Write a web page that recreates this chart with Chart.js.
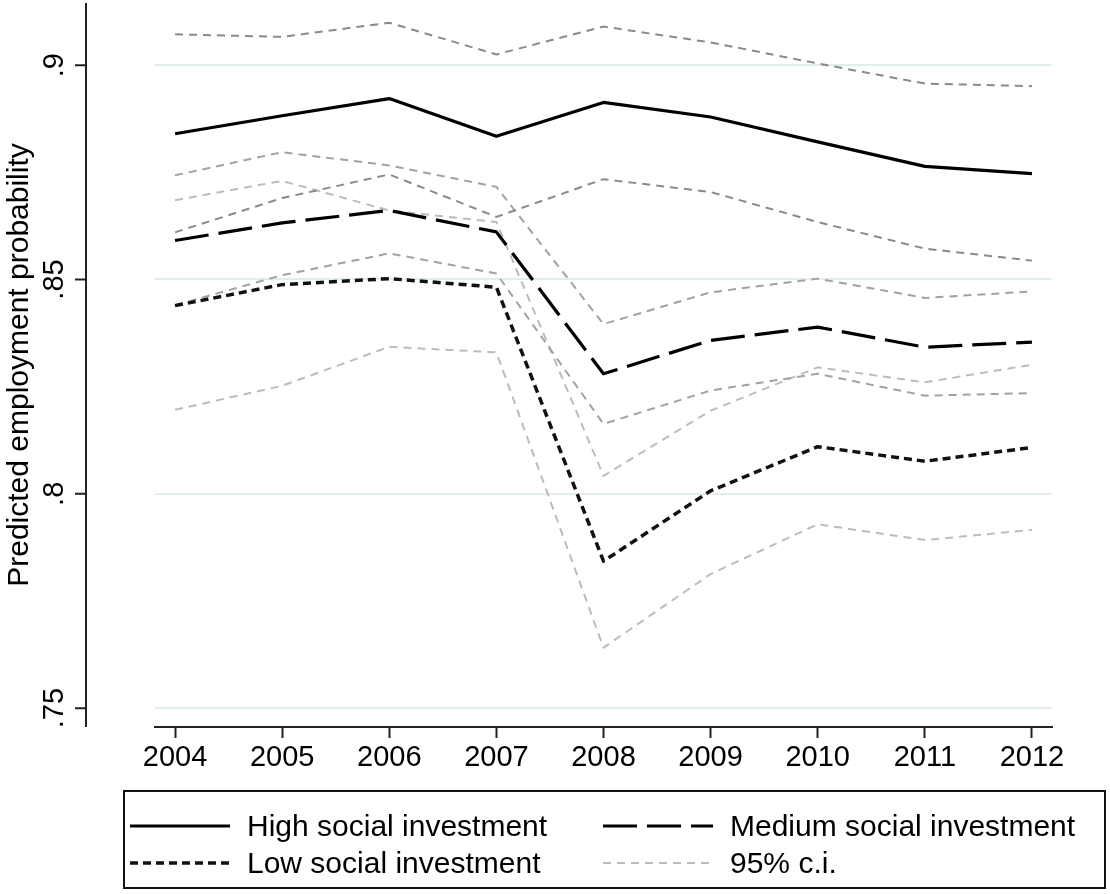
<!DOCTYPE html>
<html>
<head>
<meta charset="utf-8">
<title>Predicted employment probability</title>
<script src="https://cdn.jsdelivr.net/npm/chart.js@4.4.1/dist/chart.umd.min.js"></script>
<style>
  body { margin: 0; background: #fff; }
  #wrap { position: relative; width: 1110px; height: 894px; }
  #legend {
    position: absolute; left: 123px; top: 790px; width: 983px; height: 99px;
    box-sizing: border-box; border: 2px solid #111;
    padding: 15px 0 0 5px;
    display: grid; grid-template-columns: 473px auto; grid-auto-rows: 37px;
    font-family: "Liberation Sans", Arial, sans-serif; font-size: 30px; color: #000;
  }
  .item { display: flex; align-items: center; white-space: nowrap; }
  .item svg { margin-right: 17px; flex: none; }
</style>
</head>
<body>
<div id="wrap">
  <canvas id="chart" width="1110" height="894"></canvas>
  <div id="legend"></div>
</div>
<script>
// Values
const years = [2004, 2005, 2006, 2007, 2008, 2009, 2010, 2011, 2012];

const highSI = [0.8840, 0.8882, 0.8922, 0.8834, 0.8913, 0.8879, 0.8821, 0.8764, 0.8747];
const highUpper = [0.9072, 0.9066, 0.9099, 0.9025, 0.9090, 0.9053, 0.9004, 0.8957, 0.8951];
const highLower = [0.8610, 0.8690, 0.8745, 0.8646, 0.8734, 0.8704, 0.8634, 0.8572, 0.8544];

const mediumSI = [0.8591, 0.8632, 0.8661, 0.8611, 0.8280, 0.8358, 0.8389, 0.8342, 0.8354];
const mediumUpper = [0.8743, 0.8797, 0.8766, 0.8716, 0.8396, 0.8470, 0.8502, 0.8457, 0.8472];
const mediumLower = [0.8440, 0.8510, 0.8561, 0.8514, 0.8163, 0.8241, 0.8280, 0.8229, 0.8235];

const lowSI = [0.8439, 0.8488, 0.8502, 0.8482, 0.7843, 0.8007, 0.8110, 0.8076, 0.8108];
const lowUpper = [0.8685, 0.8730, 0.8661, 0.8634, 0.8042, 0.8194, 0.8295, 0.8260, 0.8301];
const lowLower = [0.8196, 0.8252, 0.8343, 0.8330, 0.7641, 0.7813, 0.7929, 0.7892, 0.7916];

const yTickValues = [0.75, 0.8, 0.85, 0.9];
const yTickLabels = [".75", ".8", ".85", ".9"];

const FONT = '"Liberation Sans", Arial, sans-serif';
Chart.defaults.font.family = FONT;
Chart.defaults.color = "#000";

// Turn a series into {x, y} points
function toPoints(values) {
  return years.map((yr, i) => ({ x: yr, y: values[i] }));
}

function lineDataset(label, values, color, width, dash, inLegend) {
  return {
    label: label,
    data: toPoints(values),
    borderColor: color,
    borderWidth: width,
    borderDash: dash,
    borderJoinStyle: "round",
    pointRadius: 0,
    fill: false,
    tension: 0,
    inLegend: inLegend,
  };
}

// Stata style y axis: drawn apart from the plot region
const detachedYAxis = {
  id: "detachedYAxis",
  afterDraw(chart) {
    const { ctx, chartArea, scales } = chart;
    const axisX = 86;
    ctx.save();
    ctx.strokeStyle = "#222";
    ctx.lineWidth = 2;
    ctx.beginPath();
    ctx.moveTo(axisX, chartArea.top);
    ctx.lineTo(axisX, chartArea.bottom);
    scales.y.ticks.forEach((t) => {
      const py = scales.y.getPixelForValue(t.value);
      ctx.moveTo(axisX - 11, py);
      ctx.lineTo(axisX, py);
    });
    ctx.stroke();
    ctx.restore();
  },
};

// Boxed two-column legend built from the datasets
function buildLegend(chart) {
  const box = document.getElementById("legend");
  box.innerHTML = "";
  chart.data.datasets.filter((d) => d.inLegend).forEach((d, i) => {
    const item = document.createElement("div");
    item.className = "item";
    const w = i % 2 === 0 ? 100 : 110;
    const dash = (d.borderDash || []).join(" ");
    item.innerHTML =
      `<svg width="${w}" height="10"><line x1="0" y1="5" x2="${w}" y2="5" stroke="${d.borderColor}" ` +
      `stroke-width="${d.borderWidth}" stroke-dasharray="${dash}"/></svg><span>${d.label}</span>`;
    box.appendChild(item);
  });
}

function createChart() {
  const ctx = document.getElementById("chart").getContext("2d");
  const chart = new Chart(ctx, {
    type: "line",
    data: {
      datasets: [
        lineDataset("High social investment", highSI, "#000", 3.2, [], true),
        lineDataset("Medium social investment", mediumSI, "#000", 3.2, [34, 10], true),
        lineDataset("Low social investment", lowSI, "#111", 3.5, [8, 5], true),
        lineDataset("95% c.i.", highUpper, "#8a8a8a", 2, [8, 6], false),
        lineDataset("95% c.i.", highLower, "#8a8a8a", 2, [8, 6], false),
        lineDataset("95% c.i.", mediumUpper, "#a2a2a2", 2, [8, 6], false),
        lineDataset("95% c.i.", mediumLower, "#a2a2a2", 2, [8, 6], false),
        lineDataset("95% c.i.", lowUpper, "#bcbcbc", 2, [8, 6], true),
        lineDataset("95% c.i.", lowLower, "#bcbcbc", 2, [8, 6], false),
      ],
    },
    options: {
      responsive: false,
      animation: false,
      layout: { padding: { top: 3, right: 58, left: 0, bottom: 0 } },
      plugins: {
        legend: { display: false },
        tooltip: { enabled: false },
      },
      scales: {
        x: {
          type: "linear",
          min: 2003.813,
          max: 2012.187,
          afterBuildTicks: (scale) => {
            scale.ticks = years.map((v) => ({ value: v }));
          },
          afterFit: (scale) => {
            scale.height = 167;
          },
          ticks: {
            callback: (v) => String(v),
            font: { size: 29 },
            color: "#000",
            padding: 3,
            maxRotation: 0,
          },
          grid: {
            drawOnChartArea: false,
            tickLength: 11,
            tickColor: "#222",
            tickWidth: 2,
          },
          border: { color: "#222", width: 2 },
        },
        y: {
          min: 0.7456,
          max: 0.9145,
          afterBuildTicks: (scale) => {
            scale.ticks = yTickValues.map((v) => ({ value: v }));
          },
          afterFit: (scale) => {
            scale.width = 155;
            // label padding is only meant to push the labels left
            scale.paddingTop = 0;
            scale.paddingBottom = 0;
          },
          ticks: {
            callback: (v, i) => yTickLabels[i],
            font: { size: 29 },
            color: "#000",
            minRotation: 90,
            maxRotation: 90,
            crossAlign: "center",
            padding: 80,
          },
          grid: { color: "#e3eded", lineWidth: 2, drawTicks: false },
          border: { display: false },
          title: {
            display: true,
            text: "Predicted employment probability",
            font: { size: 30 },
            color: "#000",
            padding: { top: 2, bottom: 0 },
          },
        },
      },
    },
    plugins: [detachedYAxis],
  });
  buildLegend(chart);
}

createChart();
</script>
</body>
</html>
